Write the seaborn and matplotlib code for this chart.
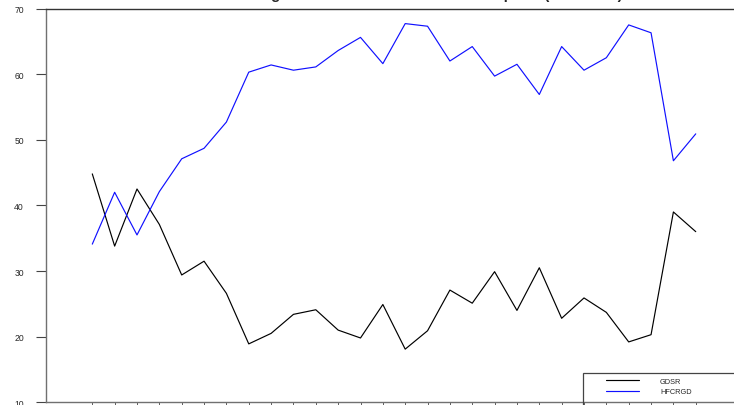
import matplotlib
matplotlib.use("Agg")
import matplotlib.pyplot as plt
from matplotlib.patches import Rectangle
import seaborn as sns
import pandas as pd

# Observation index (one tick per period)
periods = list(range(28))

# Gross domestic savings rate (% of GDP)
gdsr = [44.8, 33.8, 42.5, 37.1, 29.4, 31.5, 26.6, 18.9, 20.5, 23.4,
        24.1, 21.0, 19.8, 24.9, 18.1, 20.9, 27.1, 25.1, 29.9, 24.0,
        30.5, 22.8, 25.9, 23.7, 19.2, 20.3, 39.0, 36.0]

# Household final consumption expenditure (% of GDP)
hfcrgd = [34.1, 42.0, 35.5, 42.1, 47.1, 48.7, 52.7, 60.3, 61.4, 60.6,
          61.1, 63.6, 65.6, 61.6, 67.7, 67.3, 62.0, 64.2, 59.7, 61.5,
          56.9, 64.2, 60.6, 62.5, 67.5, 66.3, 46.8, 50.9]

series_names = ["GDSR", "HFCRGD"]
series_colors = ["#000000", "#1010ff"]
y_ticks = [10, 20, 30, 40, 50, 60, 70]
title = "Gross Domestic Savings and Household Final Consumption (% of GDP)"

df = pd.DataFrame({
    "period": periods * 2,
    "value": gdsr + hfcrgd,
    "series": [series_names[0]] * len(periods) + [series_names[1]] * len(periods),
})

sns.set_style("white")
plt.rcParams["font.family"] = ["Liberation Sans", "DejaVu Sans"]

W, H = 734, 406
fig = plt.figure(figsize=(W / 100, H / 100), dpi=100)


def fx(px):
    return px / W


def fy(py):
    return 1 - py / H


# Axes frame in pixel terms: left edge at 45.7, y=70 at 9.5, y=10 at 403.3
x0_px, step_px = 92.3, 22.35
xmin, xmax = -2.085, 30
left_px = x0_px + xmin * step_px
right_px = x0_px + xmax * step_px
top_px, bot_px = 9.5, 403.3
ax = fig.add_axes([fx(left_px), fy(bot_px), (right_px - left_px) / W, (bot_px - top_px) / H])

sns.lineplot(data=df, x="period", y="value", hue="series",
             palette=dict(zip(series_names, series_colors)),
             linewidth=0.85, ax=ax, legend=False)

ax.set_xlim(xmin, xmax)
ax.set_ylim(10, 70)
ax.set_yticks(y_ticks)
ax.set_xticks(periods)
ax.set_xlabel("")
ax.set_ylabel("")
ax.tick_params(axis="y", direction="out", length=7, width=0.8, color="#444444",
               pad=8.6, labelsize=6.2, left=True)
ax.tick_params(axis="x", direction="out", length=7, width=0.6, color="#444444",
               bottom=True, labelbottom=False)

for side in ["left", "bottom"]:
    ax.spines[side].set_color("#707070")
    ax.spines[side].set_linewidth(1.0)
ax.spines["top"].set_color("#333333")
ax.spines["top"].set_linewidth(1.0)
ax.spines["right"].set_visible(False)

# Legend box and entries
fig.patches.append(Rectangle((fx(583.3), fy(420)), fx(790) - fx(583.3), fy(374.3) - fy(420),
                             transform=fig.transFigure, fill=False,
                             edgecolor="#444444", linewidth=0.9, zorder=5))
handles = [plt.Line2D([], [], color=c, linewidth=0.85) for c in series_colors]
fig.legend(handles, series_names, loc="upper left",
           bbox_to_anchor=(fx(605.7), fy(378.8)), bbox_transform=fig.transFigure,
           frameon=False, borderpad=0, borderaxespad=0, fontsize=5.3,
           handlelength=4.46, handletextpad=2.9, labelspacing=0.45)

# Chart title sitting above the plotting frame
fig.text(fx(623), fy(-0.6), title,
         ha="right", va="baseline", fontsize=10.8, fontweight="bold")

fig.savefig("out.png", dpi=100)
